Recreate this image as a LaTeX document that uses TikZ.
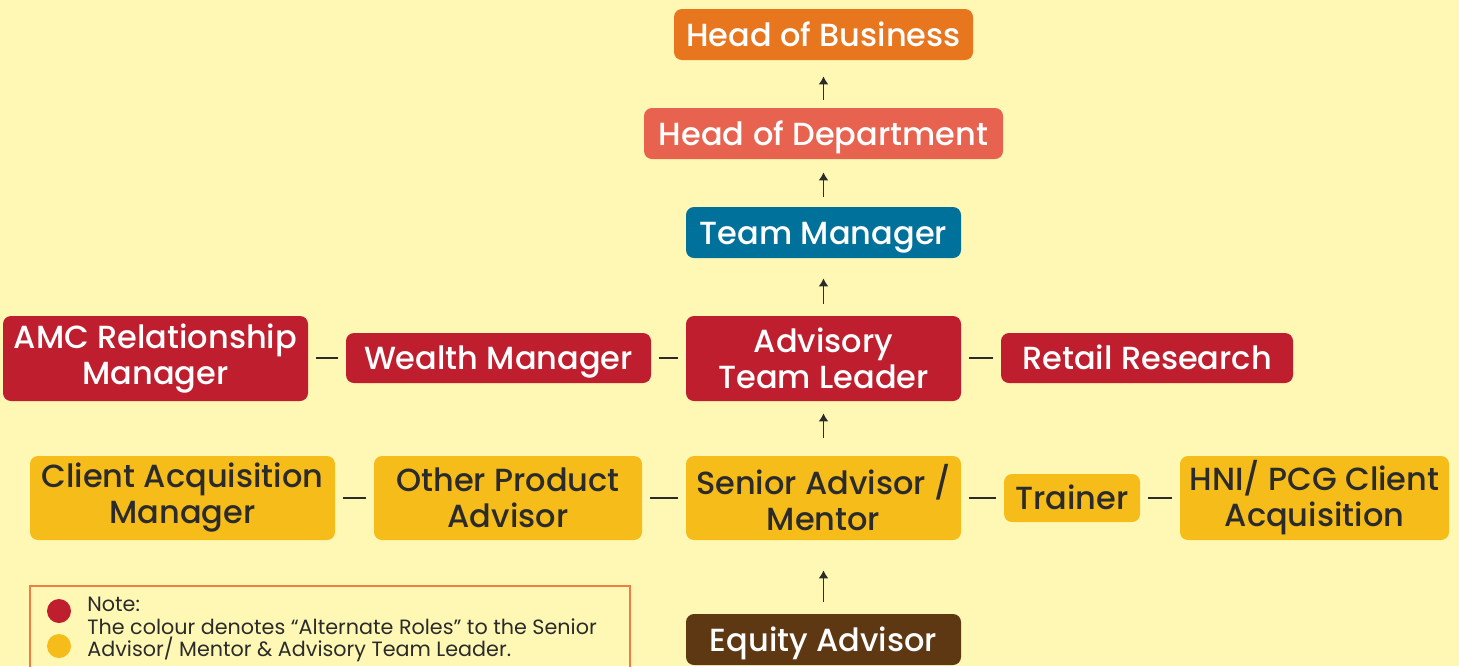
\documentclass[tikz,border=0pt]{standalone}
\usepackage{fontspec}
\setmainfont{Poppins}
\newfontfamily\boxfont{Poppins Medium}
\usetikzlibrary{arrows.meta}
\definecolor{bg}{HTML}{FFF8B5}
\definecolor{cOrange}{HTML}{E8761F}
\definecolor{cSalmon}{HTML}{E8634F}
\definecolor{cTeal}{HTML}{00719A}
\definecolor{cRed}{HTML}{BE1E2D}
\definecolor{cYellow}{HTML}{F5BC1A}
\definecolor{cBrown}{HTML}{5E3813}
\definecolor{cText}{HTML}{2B2B2B}
\definecolor{cLegend}{HTML}{F47B44}
\tikzset{
  box/.style={rounded corners=4pt, inner sep=0pt, align=center,
    font=\boxfont\fontsize{16}{18}\selectfont},
  oneline/.style={text height=11.5pt, text depth=0pt},
  whitebox/.style={box, text=white},
  darkbox/.style={box, text=cText},
  uparrow/.style={-{Latex[length=4pt,width=5pt]}, line width=0.75pt, draw=cText},
  link/.style={line width=0.6pt, draw=cText, shorten <=4pt, shorten >=4pt},
}
\begin{document}
\begin{tikzpicture}[x=0.5pt,y=-0.5pt]
\fill[bg] (0,0) rectangle (1459,666);
\useasboundingbox (0,0) rectangle (1459,666);
\clip (0,0) rectangle (1459,666);
% top chain
\node[whitebox, oneline, fill=cOrange, minimum width=149.5pt, minimum height=25.5pt] (hob) at (823.5,34.5) {Head of Business};
\node[whitebox, oneline, fill=cSalmon, minimum width=179.5pt, minimum height=25.5pt] (hod) at (823.5,133.5) {Head of Department};
\node[whitebox, oneline, fill=cTeal, minimum width=137.5pt, minimum height=25.5pt] (tm) at (823.5,232.5) {Team Manager};
% red row
\node[whitebox, fill=cRed, minimum width=137.5pt, minimum height=42.5pt] (atl) at (823.5,358.5) {Advisory\\Team Leader};
\node[whitebox, oneline, fill=cRed, minimum width=152.5pt, minimum height=25pt] (wm) at (498.5,358) {Wealth Manager};
\node[whitebox, fill=cRed, minimum width=152.5pt, minimum height=42.5pt] (amc) at (155.5,358.5) {AMC Relationship\\Manager};
\node[whitebox, oneline, fill=cRed, minimum width=146pt, minimum height=25pt] (rr) at (1147,358) {Retail Research};
% yellow row
\node[darkbox, fill=cYellow, minimum width=137.5pt, minimum height=42pt] (sa) at (823.5,498) {Senior Advisor /\\Mentor};
\node[darkbox, fill=cYellow, minimum width=134pt, minimum height=42pt] (opa) at (508,498) {Other Product\\Advisor};
\node[darkbox, fill=cYellow, minimum width=152.5pt, minimum height=42pt] (cam) at (182.5,498) {Client Acquisition\\Manager};
\node[darkbox, oneline, fill=cYellow, minimum width=68pt, minimum height=24pt] (tr) at (1072,498) {Trainer};
\node[darkbox, fill=cYellow, minimum width=134.5pt, minimum height=42pt] (hni) at (1314.5,498) {HNI/ PCG Client\\Acquisition};
% bottom
\node[whitebox, oneline, fill=cBrown, minimum width=137.5pt, minimum height=25.5pt] (ea) at (823.5,639.5) {Equity Advisor};
% arrows
\draw[uparrow, shorten <=4pt, shorten >=8pt] (hod) -- (hob);
\draw[uparrow, shorten <=5pt, shorten >=6.5pt] (tm) -- (hod);
\draw[uparrow, shorten <=6pt, shorten >=10pt] (atl) -- (tm);
\draw[uparrow, shorten <=9pt, shorten >=6pt] (sa) -- (atl);
\draw[uparrow, shorten <=6pt, shorten >=15pt] (ea) -- (sa);
% links
\draw[link] (amc.east |- wm.west) -- (wm.west);
\draw[link] (wm.east) -- (wm.east -| atl.west);
\draw[link] (rr.west -| atl.east) -- (rr.west);
\draw[link] (cam.east) -- (opa.west);
\draw[link] (opa.east) -- (sa.west);
\draw[link] (sa.east) -- (tr.west);
\draw[link] (tr.east) -- (hni.west);
% legend
\node[draw=cLegend, line width=0.6pt, minimum width=300pt, minimum height=47pt, inner sep=0pt] (legend) at (330,633) {};
\fill[cRed] (59,611) circle (6pt) coordinate (dotred);
\fill[cYellow] (59,646) circle (6pt) coordinate (dotyellow);
\node[anchor=north west, align=left, inner sep=0pt, text=cText, font=\fontsize{10.35}{11.2}\selectfont] (note) at (87,597) {Note:\\The colour denotes “Alternate Roles” to the Senior\\Advisor/ Mentor \& Advisory Team Leader.};
\end{tikzpicture}
\end{document}
